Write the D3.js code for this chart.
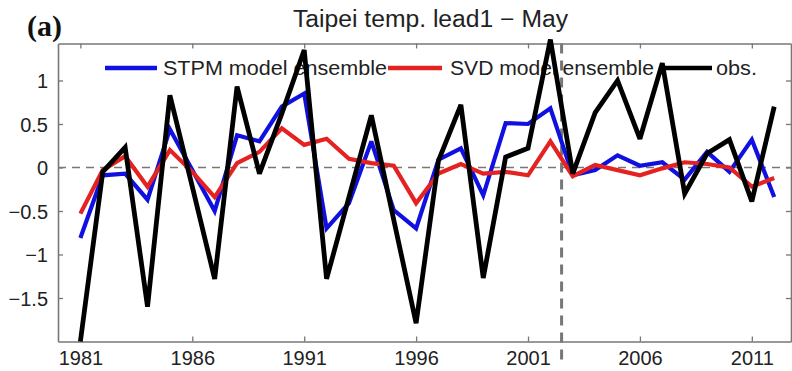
<!DOCTYPE html>
<html>
<head>
<meta charset="utf-8">
<script src="https://cdn.jsdelivr.net/npm/d3@7"></script>
<style>
    html, body { margin: 0; padding: 0; background: #fff; }
    svg { display: block; }
</style>
</head>
<body>
<svg id="line-chart" width="792" height="371"></svg>
<script>
// years on the x axis
const years = [1981, 1982, 1983, 1984, 1985, 1986, 1987, 1988, 1989, 1990, 1991, 1992, 1993, 1994, 1995, 1996,
    1997, 1998, 1999, 2000, 2001, 2002, 2003, 2004, 2005, 2006, 2007, 2008, 2009, 2010, 2011, 2012];

// STPM model ensemble (blue)
const stpm = [-0.81, -0.09, -0.07, -0.37, 0.44, -0.03, -0.5, 0.37, 0.3, 0.7, 0.85, -0.7, -0.41, 0.3, -0.49, -0.7,
    0.09, 0.22, -0.32, 0.51, 0.5, 0.68, -0.09, -0.03, 0.14, 0.02, 0.06, -0.14, 0.18, -0.05, 0.32, -0.34];

// SVD model ensemble (red)
const svd = [-0.53, -0.03, 0.13, -0.22, 0.2, -0.05, -0.34, 0.05, 0.18, 0.45, 0.26, 0.33, 0.1, 0.05, 0.02, -0.41,
    -0.07, 0.04, -0.07, -0.05, -0.09, 0.3, -0.1, 0.03, -0.03, -0.09, -0.01, 0.06, 0.04, 0.0, -0.22, -0.12];

// observations (black)
const obs = [-2.0, -0.05, 0.23, -1.6, 0.83, -0.22, -1.28, 0.93, -0.07, 0.62, 1.35, -1.28, -0.34, 0.6, -0.6, -1.79,
    0.08, 0.72, -1.27, 0.12, 0.22, 1.47, -0.07, 0.63, 1.0, 0.33, 1.2, -0.3, 0.16, 0.32, -0.39, 0.7];

const xTicks = [1981, 1986, 1991, 1996, 2001, 2006, 2011];
const yTicks = [-1.5, -1, -0.5, 0, 0.5, 1];
const splitYear = 2002.5;

const seriesNames = ['STPM model ensemble', 'SVD model ensemble', 'obs.'];
const seriesColors = ['#1010e0', '#e42222', '#000000'];

const svgTag = d3.select('#line-chart');

const layout = { left: 58, right: 791, top: 43.5, bottom: 341.5 };

const xScale = d3.scaleLinear().domain([1980, 2012.75]).range([layout.left, layout.right]);
const yScale = d3.scaleLinear().domain([-2, 1.425]).range([layout.bottom, layout.top]);

const fmt = (d) => (d < 0 ? '\u2212' + Math.abs(d) : String(d));

function drawAxes() {
    const axisColor = '#777';
    const textColor = '#222';

    const bottom = svgTag.append('g')
        .attr('transform', `translate(0, ${layout.bottom})`)
        .call(d3.axisBottom(xScale).tickValues(xTicks).tickFormat(d3.format('d')).tickSizeInner(-5).tickSizeOuter(0).tickPadding(9));
    const top = svgTag.append('g')
        .attr('transform', `translate(0, ${layout.top})`)
        .call(d3.axisTop(xScale).tickValues(xTicks).tickFormat('').tickSizeInner(-5).tickSizeOuter(0));
    const left = svgTag.append('g')
        .attr('transform', `translate(${layout.left}, 0)`)
        .call(d3.axisLeft(yScale).tickValues(yTicks).tickFormat(fmt).tickSizeInner(-5).tickSizeOuter(0).tickPadding(10));
    const right = svgTag.append('g')
        .attr('transform', `translate(${layout.right}, 0)`)
        .call(d3.axisRight(yScale).tickValues(yTicks).tickFormat('').tickSizeInner(-5).tickSizeOuter(0));

    [bottom, top, left, right].forEach((g) => {
        g.select('.domain').attr('stroke', axisColor).attr('stroke-width', 1.6);
        g.selectAll('.tick line').attr('stroke', axisColor).attr('stroke-width', 1.3);
        g.selectAll('text')
            .attr('fill', textColor)
            .style('font-family', '"Liberation Sans", Arial, sans-serif')
            .style('font-size', '20px');
    });
    bottom.selectAll('text').attr('dy', '0.71em');
    left.selectAll('text').attr('dy', '0.36em');
}

function drawReferenceLines() {
    svgTag.append('line')
        .attr('x1', layout.left).attr('x2', layout.right)
        .attr('y1', yScale(0)).attr('y2', yScale(0))
        .attr('stroke', '#777').attr('stroke-width', 1.4)
        .attr('stroke-dasharray', '8,6');

    svgTag.append('line')
        .attr('x1', xScale(splitYear)).attr('x2', xScale(splitYear))
        .attr('y1', layout.top).attr('y2', 362)
        .attr('stroke', '#777').attr('stroke-width', 3)
        .attr('stroke-dasharray', '10,7');
}

function drawLegend() {
    const legendY = 68;
    const entries = [
        { x: 105, len: 52, tx: 163, w: 224 },
        { x: 388, len: 54, tx: 450, w: 204 },
        { x: 660, len: 52, tx: 716, w: 41 }
    ];
    entries.forEach((e, i) => {
        svgTag.append('line')
            .attr('x1', e.x).attr('x2', e.x + e.len)
            .attr('y1', legendY).attr('y2', legendY)
            .attr('stroke', seriesColors[i]).attr('stroke-width', 4.5);
        svgTag.append('text')
            .text(seriesNames[i])
            .attr('x', e.tx).attr('y', legendY)
            .attr('dy', '0.36em')
            .attr('textLength', e.w)
            .attr('lengthAdjust', 'spacingAndGlyphs')
            .attr('fill', '#222')
            .style('font-family', '"Liberation Sans", Arial, sans-serif')
            .style('font-size', '20px');
    });
}

function drawSeries() {
    const line = d3.line()
        .x((d) => xScale(d[0]))
        .y((d) => yScale(d[1]));

    [stpm, svd, obs].forEach((values, i) => {
        svgTag.append('path')
            .datum(years.map((y, j) => [y, values[j]]))
            .attr('d', line)
            .attr('fill', 'none')
            .attr('stroke', seriesColors[i])
            .attr('stroke-width', i === 2 ? 4.8 : 4.2)
            .attr('stroke-linejoin', 'miter')
            .attr('stroke-miterlimit', 3);
    });
}

function drawTitles() {
    svgTag.append('text')
        .text('Taipei temp. lead1 \u2212 May')
        .attr('x', 293)
        .attr('y', 27)
        .attr('textLength', 275)
        .attr('lengthAdjust', 'spacingAndGlyphs')
        .attr('fill', '#222')
        .style('font-family', '"Liberation Sans", Arial, sans-serif')
        .style('font-size', '23px');

    svgTag.append('text')
        .text('(a)')
        .attr('x', 27)
        .attr('y', 36)
        .attr('fill', '#111')
        .attr('font-weight', 'bold')
        .style('font-family', '"Liberation Serif", "Times New Roman", serif')
        .style('font-size', '30px');
}

function draw() {
    svgTag.selectAll('*').remove();
    drawReferenceLines();
    drawAxes();
    drawLegend();
    drawSeries();
    drawTitles();
}

draw();
</script>
</body>
</html>
